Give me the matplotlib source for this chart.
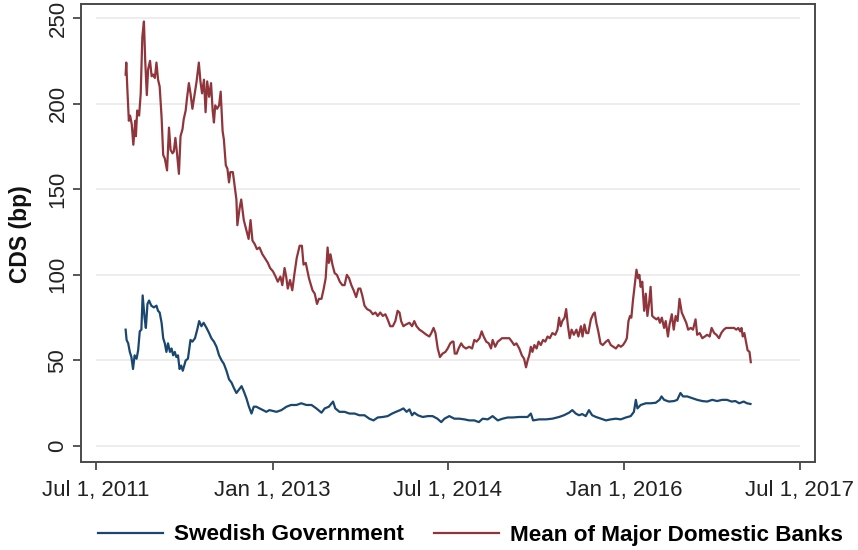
import matplotlib
matplotlib.use("Agg")
import matplotlib.pyplot as plt
import pandas as pd

# values (bp)
gov_dates = [
    "2011-10-01", "2011-10-04", "2011-10-09", "2011-10-14", "2011-10-19", "2011-10-24", "2011-10-29",
    "2011-11-04", "2011-11-09", "2011-11-14", "2011-11-19", "2011-11-23", "2011-11-29", "2011-12-03",
    "2011-12-08", "2011-12-13", "2011-12-20", "2011-12-28", "2012-01-05", "2012-01-10", "2012-01-15",
    "2012-01-21", "2012-01-26", "2012-01-31", "2012-02-05", "2012-02-10", "2012-02-16", "2012-02-21",
    "2012-02-26", "2012-03-02", "2012-03-07", "2012-03-12", "2012-03-17", "2012-03-22", "2012-03-27",
    "2012-04-05", "2012-04-12", "2012-04-20", "2012-04-26", "2012-05-04", "2012-05-11", "2012-05-17",
    "2012-05-24", "2012-05-31", "2012-06-09", "2012-06-17", "2012-06-24", "2012-07-02", "2012-07-10",
    "2012-07-18", "2012-07-26", "2012-08-02", "2012-08-10", "2012-08-18", "2012-08-26", "2012-09-02",
    "2012-09-10", "2012-09-18", "2012-09-26", "2012-10-03", "2012-10-11", "2012-10-19", "2012-10-27",
    "2012-11-03", "2012-11-11", "2012-11-21", "2012-12-02", "2012-12-12", "2012-12-22", "2013-01-13",
    "2013-01-28", "2013-02-13", "2013-02-27", "2013-03-16", "2013-03-31", "2013-04-16", "2013-05-02",
    "2013-05-17", "2013-06-02", "2013-06-12", "2013-06-25", "2013-07-08", "2013-07-15", "2013-07-28",
    "2013-08-13", "2013-08-28", "2013-09-13", "2013-09-28", "2013-10-14", "2013-10-29", "2013-11-11",
    "2013-11-24", "2013-12-10", "2013-12-25", "2014-01-08", "2014-01-20", "2014-02-02", "2014-02-12",
    "2014-02-22", "2014-03-03", "2014-03-11", "2014-03-18", "2014-03-29", "2014-04-13", "2014-04-29",
    "2014-05-14", "2014-05-29", "2014-06-10", "2014-06-20", "2014-07-05", "2014-07-21", "2014-08-05",
    "2014-08-21", "2014-09-05", "2014-09-21", "2014-10-05", "2014-10-17", "2014-11-02", "2014-11-17",
    "2014-12-03", "2014-12-18", "2015-01-03", "2015-01-18", "2015-02-08", "2015-03-06", "2015-03-16",
    "2015-03-23", "2015-04-11", "2015-05-02", "2015-05-22", "2015-06-12", "2015-06-27", "2015-07-13",
    "2015-07-23", "2015-08-03", "2015-08-13", "2015-08-23", "2015-09-03", "2015-09-13", "2015-09-23",
    "2015-10-05", "2015-10-20", "2015-11-05", "2015-11-20", "2015-12-06", "2015-12-21", "2016-01-06",
    "2016-01-21", "2016-01-31", "2016-02-06", "2016-02-11", "2016-02-21", "2016-03-08", "2016-03-23",
    "2016-04-08", "2016-04-20", "2016-04-26", "2016-05-04", "2016-05-19", "2016-06-04", "2016-06-14",
    "2016-06-24", "2016-07-02", "2016-07-15", "2016-07-30", "2016-08-15", "2016-08-31", "2016-09-15",
    "2016-10-01", "2016-10-16", "2016-11-01", "2016-11-16", "2016-11-30", "2016-12-12", "2016-12-24",
    "2017-01-07", "2017-01-17", "2017-01-28",
]
gov_cds = [
    68, 62, 60, 55, 52, 45, 53,
    51, 56, 67, 68, 88, 75, 69,
    83, 85, 82, 81, 82, 79, 78,
    72, 63, 60, 55, 60, 55, 57,
    53, 55, 52, 53, 45, 47, 44,
    50, 51, 62, 61, 63, 68, 73,
    70, 72, 69, 66, 63, 61, 58,
    53, 50, 48, 44, 39, 37, 34,
    31, 33, 35, 32, 28, 23, 19,
    23, 23, 22, 21, 20, 21, 20,
    21, 23, 24, 24, 25, 24, 24,
    22, 19.5, 22, 23, 26, 22, 20,
    20, 19, 19, 18, 18, 16, 15,
    16.7, 17, 17.5, 19, 20, 21, 22,
    20, 21.4, 18, 19.5, 18, 17, 17.5,
    17.5, 16, 14, 16, 17.5, 16, 16,
    15.6, 15, 15, 14, 16, 15.6, 17.5,
    15, 16, 16.7, 16.7, 17, 17, 19,
    15, 15.6, 15.6, 16, 17, 18, 19.5,
    21, 19, 18, 18.7, 17.5, 21, 18,
    17, 16, 15, 15.6, 16, 15.6, 16.7,
    17.5, 20, 27, 22, 24, 25, 25,
    25.3, 27, 29, 27, 26, 26.3, 27,
    31, 29, 29, 28, 27, 26.3, 26,
    27, 26.3, 27, 27, 26, 26.3, 25,
    26, 25, 24.6,
]

bank_dates = [
    "2011-10-01", "2011-10-03", "2011-10-06", "2011-10-11", "2011-10-15", "2011-10-20", "2011-10-25",
    "2011-10-31", "2011-11-02", "2011-11-06", "2011-11-12", "2011-11-17", "2011-11-22", "2011-11-27",
    "2011-12-01", "2011-12-06", "2011-12-10", "2011-12-16", "2011-12-21", "2011-12-26", "2011-12-31",
    "2012-01-05", "2012-01-10", "2012-01-15", "2012-01-21", "2012-01-26", "2012-01-31", "2012-02-07",
    "2012-02-13", "2012-02-18", "2012-02-24", "2012-02-28", "2012-03-04", "2012-03-09", "2012-03-15",
    "2012-03-20", "2012-03-26", "2012-03-30", "2012-04-05", "2012-04-09", "2012-04-15", "2012-04-20",
    "2012-04-26", "2012-05-01", "2012-05-09", "2012-05-16", "2012-05-21", "2012-05-26", "2012-06-01",
    "2012-06-06", "2012-06-11", "2012-06-17", "2012-06-23", "2012-06-28", "2012-07-02", "2012-07-06",
    "2012-07-12", "2012-07-18", "2012-07-23", "2012-07-29", "2012-08-02", "2012-08-08", "2012-08-13",
    "2012-08-18", "2012-08-22", "2012-08-30", "2012-09-05", "2012-09-10", "2012-09-13", "2012-09-20",
    "2012-09-25", "2012-10-03", "2012-10-11", "2012-10-18", "2012-10-24", "2012-10-30", "2012-11-06",
    "2012-11-13", "2012-11-21", "2012-11-30", "2012-12-07", "2012-12-17", "2012-12-24", "2013-01-02",
    "2013-01-10", "2013-01-17", "2013-01-25", "2013-01-31", "2013-02-07", "2013-02-12", "2013-02-17",
    "2013-02-24", "2013-03-03", "2013-03-10", "2013-03-17", "2013-03-26", "2013-04-02", "2013-04-07",
    "2013-04-14", "2013-04-24", "2013-05-05", "2013-05-12", "2013-05-19", "2013-05-25", "2013-06-02",
    "2013-06-09", "2013-06-15", "2013-06-21", "2013-06-25", "2013-06-30", "2013-07-06", "2013-07-13",
    "2013-07-20", "2013-07-29", "2013-08-06", "2013-08-13", "2013-08-20", "2013-08-27", "2013-09-03",
    "2013-09-10", "2013-09-18", "2013-09-25", "2013-10-01", "2013-10-07", "2013-10-14", "2013-10-22",
    "2013-11-01", "2013-11-09", "2013-11-17", "2013-11-24", "2013-12-02", "2013-12-10", "2013-12-18",
    "2013-12-25", "2014-01-02", "2014-01-10", "2014-01-18", "2014-01-25", "2014-01-31", "2014-02-05",
    "2014-02-12", "2014-02-20", "2014-03-03", "2014-03-11", "2014-03-18", "2014-03-25", "2014-04-03",
    "2014-04-11", "2014-04-18", "2014-04-25", "2014-05-04", "2014-05-10", "2014-05-17", "2014-05-23",
    "2014-05-30", "2014-06-06", "2014-06-14", "2014-06-23", "2014-06-30", "2014-07-08", "2014-07-14",
    "2014-07-18", "2014-07-22", "2014-07-28", "2014-08-03", "2014-08-11", "2014-08-18", "2014-08-26",
    "2014-09-05", "2014-09-14", "2014-09-21", "2014-09-28", "2014-10-07", "2014-10-14", "2014-10-20",
    "2014-10-28", "2014-11-05", "2014-11-12", "2014-11-17", "2014-11-25", "2014-12-03", "2014-12-10",
    "2014-12-16", "2014-12-23", "2014-12-30", "2015-01-08", "2015-01-16", "2015-01-23", "2015-01-30",
    "2015-02-08", "2015-02-16", "2015-02-23", "2015-03-01", "2015-03-06", "2015-03-11", "2015-03-16",
    "2015-03-21", "2015-03-27", "2015-04-03", "2015-04-09", "2015-04-16", "2015-04-23", "2015-04-30",
    "2015-05-07", "2015-05-14", "2015-05-22", "2015-05-31", "2015-06-07", "2015-06-12", "2015-06-17",
    "2015-06-22", "2015-06-29", "2015-07-04", "2015-07-09", "2015-07-15", "2015-07-21", "2015-07-28",
    "2015-08-05", "2015-08-11", "2015-08-19", "2015-08-24", "2015-08-30", "2015-09-05", "2015-09-11",
    "2015-09-19", "2015-09-26", "2015-10-01", "2015-10-06", "2015-10-12", "2015-10-19", "2015-10-26",
    "2015-11-05", "2015-11-12", "2015-11-20", "2015-11-28", "2015-12-06", "2015-12-14", "2015-12-21",
    "2015-12-28", "2016-01-04", "2016-01-09", "2016-01-14", "2016-01-19", "2016-01-23", "2016-01-28",
    "2016-02-03", "2016-02-08", "2016-02-13", "2016-02-17", "2016-02-21", "2016-02-26", "2016-03-03",
    "2016-03-08", "2016-03-13", "2016-03-18", "2016-03-23", "2016-03-28", "2016-04-03", "2016-04-10",
    "2016-04-16", "2016-04-21", "2016-04-27", "2016-05-04", "2016-05-09", "2016-05-16", "2016-05-21",
    "2016-05-28", "2016-06-03", "2016-06-09", "2016-06-15", "2016-06-21", "2016-06-28", "2016-07-05",
    "2016-07-12", "2016-07-18", "2016-07-26", "2016-08-02", "2016-08-10", "2016-08-15", "2016-08-23",
    "2016-08-31", "2016-09-08", "2016-09-15", "2016-09-23", "2016-09-29", "2016-10-07", "2016-10-14",
    "2016-10-22", "2016-10-29", "2016-11-06", "2016-11-13", "2016-11-22", "2016-11-30", "2016-12-08",
    "2016-12-15", "2016-12-21", "2016-12-27", "2016-12-31", "2017-01-04", "2017-01-09", "2017-01-14",
    "2017-01-19", "2017-01-25", "2017-01-29",
]
bank_cds = [
    217, 224, 210, 190, 193, 188, 176,
    190, 181, 196, 193, 206, 239, 248,
    225, 205, 220, 225, 216, 217, 215,
    224, 214, 210, 192, 170, 168, 161,
    186, 173, 171, 172, 180, 171, 159,
    181, 185, 191, 196, 203, 212, 206,
    197, 203, 213, 224, 213, 206, 214,
    195, 213, 204, 212, 196, 189, 199,
    197, 199, 207, 184, 179, 164, 162,
    154, 160, 160, 151, 144, 129, 139,
    144, 132, 126, 121, 132, 120, 118,
    115, 116, 112, 110, 107, 104, 102,
    99, 96, 99, 94, 104, 99, 92,
    97, 91, 101, 110, 117, 117, 106,
    107, 98, 91, 89, 83, 86, 86,
    92, 98, 116, 107, 112, 106, 101,
    100, 96, 94, 94, 100, 98, 94,
    91, 87, 92, 92, 88, 82, 80,
    79, 77, 78, 76, 78, 76, 77,
    74, 70, 70, 73, 79, 78, 73,
    70, 71, 72, 70, 73, 70, 68,
    67, 66, 65, 64, 66, 69, 66,
    57, 52, 54, 55, 57, 60, 61,
    61, 54, 54, 57, 60, 58, 57,
    58, 57, 62, 61, 63, 67, 64,
    61, 60, 57, 62, 58, 61, 62,
    63, 63, 63, 63, 61, 59, 60,
    57, 53, 51, 46, 50, 53, 58,
    55, 59, 57, 61, 59, 62, 61,
    64, 63, 66, 65, 68, 75, 70,
    73, 75, 80, 71, 63, 68, 65,
    68, 64, 70, 64, 71, 66, 66,
    74, 77, 78, 72, 67, 60, 59,
    61, 62, 59, 58, 57, 59, 58,
    59, 61, 63, 73, 76, 75, 85,
    95, 103, 98, 100, 93, 96, 79,
    89, 76, 83, 93, 76, 75, 74,
    75, 72, 75, 69, 73, 64, 71,
    77, 68, 76, 73, 86, 78, 75,
    72, 68, 69, 68, 74, 65, 66,
    63, 64, 65, 64, 69, 66, 65,
    63, 66, 68, 69, 69, 69, 69,
    68, 69, 67, 69, 64, 66, 61,
    56, 55, 49,
]

x_ticks = ["2011-07-01", "2013-01-01", "2014-07-01", "2016-01-01", "2017-07-01"]
x_tick_labels = ["Jul 1, 2011", "Jan 1, 2013", "Jul 1, 2014", "Jan 1, 2016", "Jul 1, 2017"]
y_ticks = [0, 50, 100, 150, 200, 250]

navy = "#1a476f"
maroon = "#90353b"
frame = "#4a4a4a"

plt.rcParams["font.family"] = ["Liberation Sans", "DejaVu Sans"]

fig = plt.figure(figsize=(8.58, 5.5), dpi=100)
ax = fig.add_axes([81 / 858, 1 - 462 / 550, 734 / 858, 458 / 550])

xt = pd.to_datetime(x_ticks)
ax.hlines(y_ticks, xt[0], xt[-1], colors="#ececec", linewidth=1.3, zorder=0)

ax.plot(pd.to_datetime(gov_dates), gov_cds, color=navy, linewidth=1.6,
        label="Swedish Government")
ax.plot(pd.to_datetime(bank_dates), bank_cds, color=maroon, linewidth=1.6,
        label="Mean of Major Domestic Banks")

ax.set_xlim(xt[0] - pd.Timedelta(days=47), xt[-1] + pd.Timedelta(days=47))
ax.set_ylim(-9.3, 258.2)
ax.set_xticks(xt)
ax.set_xticklabels(x_tick_labels)
ax.set_yticks(y_ticks)
ax.set_yticklabels([str(v) for v in y_ticks], rotation=90, va="center")

for s in ax.spines.values():
    s.set_color(frame)
    s.set_linewidth(1.4)
ax.tick_params(axis="both", direction="out", length=6, width=1.3, color=frame,
               labelsize=16, labelcolor="#222222")
ax.tick_params(axis="x", pad=7)
ax.tick_params(axis="y", pad=3)

fig.text(21 / 858, 1 - 234 / 550, "CDS (bp)", rotation=90, ha="center", va="center",
         fontsize=16.5, fontweight="bold", color="#111111")

fig.legend(loc="center left", bbox_to_anchor=(98 / 858, 1 - 535 / 550), ncol=2,
           frameon=False, borderpad=0, borderaxespad=0, handlelength=2.9,
           handletextpad=0.5, columnspacing=1.3,
           prop={"size": 16.2, "weight": "bold"})

fig.savefig("out.png", dpi=100)
